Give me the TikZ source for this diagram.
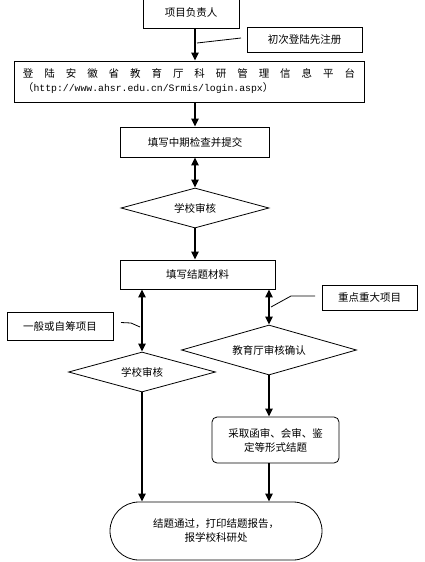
\documentclass[tikz,border=0pt]{standalone}
\usepackage{fontspec}
\setmainfont{Noto Sans CJK SC}
\newfontfamily\urlfont{Liberation Mono}
\usetikzlibrary{arrows.meta, shapes.geometric, positioning}

\begin{document}
\begin{tikzpicture}[x=1pt, y=-1pt,
    box/.style={rectangle, draw, line width=0.8pt, inner sep=0pt, align=center, font=\fontsize{10.5}{14}\selectfont},
    choice/.style={diamond, draw, line width=0.8pt, inner sep=0pt, aspect=3.7, font=\fontsize{10.5}{14}\selectfont},
    flow/.style={line width=2pt, -{Triangle[length=8pt,width=7pt]}},
    both/.style={line width=2pt, {Triangle[length=8pt,width=7pt]}-{Triangle[length=8pt,width=7pt]}},
    remark/.style={line width=0.8pt}
]
\useasboundingbox (0,0) rectangle (424,562);

% Main column
\node[box, minimum width=96pt, minimum height=30pt] (lead) at (191,13) {项目负责人};
\node[box, minimum width=115pt, minimum height=25pt] (reg) at (304.5,39.5) {初次登陆先注册};
\node[box, minimum width=350pt, minimum height=41pt, align=left, text width=332pt] (platform) at (189,81.5)
    {\hbox to 332pt{登\hfill 陆\hfill 安\hfill 徽\hfill 省\hfill 教\hfill 育\hfill 厅\hfill 科\hfill 研\hfill 管\hfill 理\hfill 信\hfill 息\hfill 平\hfill 台}\\
     （{\urlfont\fontsize{9.8}{14}\selectfont http://www.ahsr.edu.cn/Srmis/login.aspx}）};
\node[box, minimum width=149pt, minimum height=30pt] (midterm) at (195,142) {填写中期检查并提交};
\node[choice, minimum width=148pt, minimum height=40pt] (check1) at (195,208) {学校审核};
\node[box, minimum width=155pt, minimum height=29pt] (final) at (197.5,274.5) {填写结题材料};

% Two branches
\node[box, minimum width=95pt, minimum height=25pt] (key) at (369.5,297.5) {重点重大项目};
\node[box, minimum width=106pt, minimum height=28pt] (general) at (60,326) {一般或自筹项目};
\node[choice, minimum width=147pt, minimum height=40pt] (check2) at (142,372) {学校审核};
\node[choice, minimum width=175pt, minimum height=50pt] (dept) at (269,350) {教育厅审核确认};
\node[box, rounded corners=5pt, minimum width=127pt, minimum height=46pt] (review) at (275.5,440)
    {采取函审、会审、鉴\\定等形式结题};
\node[box, rounded corners=29pt, minimum width=212pt, minimum height=58pt] (done) at (216,531)
    {结题通过，打印结题报告，\\报学校科研处};

% Arrows
\draw[flow] (lead.south -| midterm.north) -- (platform.north -| midterm.north);
\draw[flow] (platform.south -| midterm.north) -- (midterm.north);
\draw[both] (midterm.south) -- (check1.north);
\draw[flow] (check1.south) -- (final.north -| check1.south);
\draw[both] (final.south -| check2.north) -- (check2.north);
\draw[both] (final.south -| dept.north) -- (dept.north);
\draw[flow] (dept.south) -- (review.north -| dept.south);
\draw[flow] (review.south -| dept.south) -- (done.north -| dept.south);
\draw[flow] (check2.south) -- (done.north -| check2.south);

% Callout lines
\coordinate (regfoot) at (197,43);
\coordinate (regend) at (241,38);
\draw[remark] (regfoot) -- (regend);
\coordinate (keyfoot) at (271,307);
\coordinate (keyend) at (315,296);
\draw[remark] (keyfoot) -- (291,296) -- (keyend);
\coordinate (genfoot) at (140,327);
\coordinate (genend) at (121,322.5);
\draw[remark] (genfoot) -- (131,323) -- (genend);

\end{tikzpicture}
\end{document}
